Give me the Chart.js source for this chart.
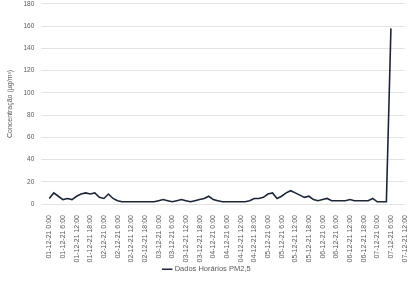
<!DOCTYPE html>
<html>
<head>
<meta charset="utf-8">
<script src="https://cdn.jsdelivr.net/npm/chart.js@4.4.1/dist/chart.umd.min.js"></script>
<style>
  html, body { margin: 0; padding: 0; background: #fff; overflow: hidden; }
  #wrap { position: relative; width: 416px; height: 290px; margin-top: -7px; }
</style>
</head>
<body>
<div id="wrap"><canvas id="chart"></canvas></div>
<script>
// one point every 2 hours, a label every 3 points (6 h)
const labels = [
  '01-12-21 0:00', '01-12-21 2:00', '01-12-21 4:00', '01-12-21 6:00', '01-12-21 8:00', '01-12-21 10:00',
  '01-12-21 12:00', '01-12-21 14:00', '01-12-21 16:00', '01-12-21 18:00', '01-12-21 20:00', '01-12-21 22:00',
  '02-12-21 0:00', '02-12-21 2:00', '02-12-21 4:00', '02-12-21 6:00', '02-12-21 8:00', '02-12-21 10:00',
  '02-12-21 12:00', '02-12-21 14:00', '02-12-21 16:00', '02-12-21 18:00', '02-12-21 20:00', '02-12-21 22:00',
  '03-12-21 0:00', '03-12-21 2:00', '03-12-21 4:00', '03-12-21 6:00', '03-12-21 8:00', '03-12-21 10:00',
  '03-12-21 12:00', '03-12-21 14:00', '03-12-21 16:00', '03-12-21 18:00', '03-12-21 20:00', '03-12-21 22:00',
  '04-12-21 0:00', '04-12-21 2:00', '04-12-21 4:00', '04-12-21 6:00', '04-12-21 8:00', '04-12-21 10:00',
  '04-12-21 12:00', '04-12-21 14:00', '04-12-21 16:00', '04-12-21 18:00', '04-12-21 20:00', '04-12-21 22:00',
  '05-12-21 0:00', '05-12-21 2:00', '05-12-21 4:00', '05-12-21 6:00', '05-12-21 8:00', '05-12-21 10:00',
  '05-12-21 12:00', '05-12-21 14:00', '05-12-21 16:00', '05-12-21 18:00', '05-12-21 20:00', '05-12-21 22:00',
  '06-12-21 0:00', '06-12-21 2:00', '06-12-21 4:00', '06-12-21 6:00', '06-12-21 8:00', '06-12-21 10:00',
  '06-12-21 12:00', '06-12-21 14:00', '06-12-21 16:00', '06-12-21 18:00', '06-12-21 20:00', '06-12-21 22:00',
  '07-12-21 0:00', '07-12-21 2:00', '07-12-21 4:00', '07-12-21 6:00', '07-12-21 8:00', '07-12-21 10:00',
  '07-12-21 12:00'
];

const pm25 = [
  5, 10, 7, 4, 5, 4, 7, 9, 10, 9, 10, 6,
  5, 9, 5, 3, 2, 2, 2, 2, 2, 2, 2, 2,
  3, 4, 3, 2, 3, 4, 3, 2, 3, 4, 5, 7,
  4, 3, 2, 2, 2, 2, 2, 2, 3, 5, 5, 6,
  9, 10, 5, 7, 10, 12, 10, 8, 6, 7, 4, 3,
  4, 5, 3, 3, 3, 3, 4, 3, 3, 3, 3, 5,
  2, 2, 2, 158, null, null, null
];

const yTicks = [0, 20, 40, 60, 80, 100, 120, 140, 160, 180];

const seriesName = 'Dados Horários PM2,5';
const yTitle = 'Concentração (µg/m³)';

Chart.defaults.font.family = '"Liberation Sans", Arial, sans-serif';
Chart.defaults.color = '#595959';

new Chart(document.getElementById('chart'), {
  type: 'line',
  data: {
    labels: labels,
    datasets: [{
      label: seriesName,
      data: pm25,
      borderColor: '#1c2638',
      borderWidth: 1.6,
      pointRadius: 0,
      tension: 0,
      fill: false
    }]
  },
  options: {
    responsive: true,
    maintainAspectRatio: false,
    animation: false,
    layout: { autoPadding: false, padding: { top: 4, right: 6, left: 4, bottom: 0 } },
    plugins: {
      legend: {
        position: 'bottom',
        labels: {
          usePointStyle: true,
          pointStyle: 'line',
          boxWidth: 24,
          font: { size: 7.5 },
          padding: 0
        }
      },
      tooltip: { enabled: false }
    },
    scales: {
      x: {
        grid: { display: false },
        border: { display: false },
        ticks: {
          autoSkip: false,
          maxRotation: 90,
          minRotation: 90,
          padding: 3,
          font: { size: 7 },
          callback: function (v, i) { return i % 3 === 0 ? labels[i] : null; }
        }
      },
      y: {
        min: 0,
        max: 180,
        afterBuildTicks: function (axis) { axis.ticks = yTicks.map(v => ({ value: v })); },
        grid: { color: '#e3e3e3', lineWidth: 1 },
        border: { display: false },
        ticks: { font: { size: 6.5 }, padding: 7 },
        title: { display: true, text: yTitle, font: { size: 7 }, padding: 2 }
      }
    }
  }
});
</script>
</body>
</html>
